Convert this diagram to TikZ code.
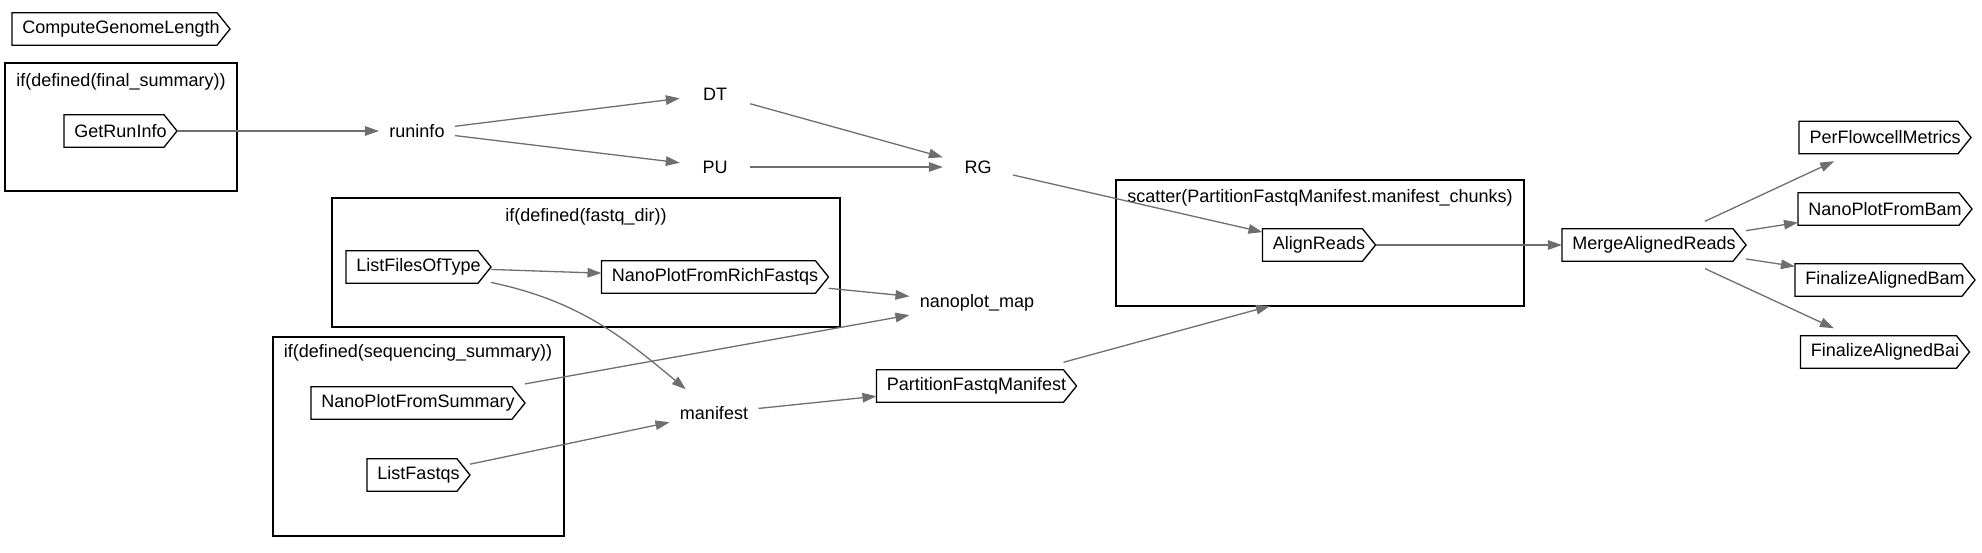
\documentclass[tikz,border=0pt]{standalone}
\usepackage{fontspec}
\setmainfont{Liberation Sans}
\usetikzlibrary{arrows.meta}
\definecolor{edgegray}{HTML}{6E6E6E}

\begin{document}
\begin{tikzpicture}[x=1pt, y=1pt, font=\fontsize{18}{21.6}\selectfont,
  task node/.style={rectangle, minimum height=47pt, inner xsep=10.3pt, inner ysep=0pt},
  var node/.style={rectangle, minimum width=70pt, minimum height=47pt, inner xsep=10.3pt, inner ysep=0pt},
  cluster box/.style={draw, line width=1.3pt},
  cds line/.style={draw, line width=1.3pt, line join=miter},
  flow/.style={draw=edgegray, line width=1.3pt, -{Triangle[length=14pt,width=9.5pt]}}]
\useasboundingbox (0,0) rectangle (1982,-552);
% clusters
\begin{scope}
\node[cluster box, minimum width=232pt, minimum height=128pt] (c1) at (121,-127) {};
\node[cluster box, minimum width=508pt, minimum height=129pt] (c2) at (586,-262.5) {};
\node[cluster box, minimum width=291pt, minimum height=199pt] (c3) at (418.5,-436.5) {};
\node[cluster box, minimum width=408pt, minimum height=126pt] (c4) at (1320,-243) {};
\node (c1label) at (121,-82) {if(defined(final\_summary))};
\node (c2label) at (586,-217) {if(defined(fastq\_dir))};
\node (c3label) at (418,-353) {if(defined(sequencing\_summary))};
\node (c4label) at (1320,-198) {scatter(PartitionFastqManifest.manifest\_chunks)};
\end{scope}
% tasks
\begin{scope}
\node[task node] (cgl) at (121,-29) {ComputeGenomeLength};
\node[task node] (gri) at (120.5,-131) {GetRunInfo};
\node[task node] (lft) at (418.5,-267) {ListFilesOfType};
\node[task node] (nprf) at (715,-277) {NanoPlotFromRichFastqs};
\node[task node] (npfs) at (418,-403) {NanoPlotFromSummary};
\node[task node] (lfq) at (418.5,-475) {ListFastqs};
\node[task node] (pfm) at (976.5,-386) {PartitionFastqManifest};
\node[task node] (alr) at (1319,-245) {AlignReads};
\node[task node] (mar) at (1654,-245) {MergeAlignedReads};
\node[task node] (pfc) at (1885,-137.5) {PerFlowcellMetrics};
\node[task node] (npb) at (1885,-209) {NanoPlotFromBam};
\node[task node] (fab) at (1885,-280) {FinalizeAlignedBam};
\node[task node] (fai) at (1885,-352) {FinalizeAlignedBai};
%\node[task node] () at (,) {};
\end{scope}
\foreach \t in {cgl,gri,lft,nprf,npfs,lfq,pfm,alr,mar,pfc,npb,fab,fai}
  \draw[cds line] ([yshift=-7.5pt]\t.north west) -- ([xshift=-13pt,yshift=-7.5pt]\t.north east)
    -- (\t.east) -- ([xshift=-13pt,yshift=7.5pt]\t.south east) -- ([yshift=7.5pt]\t.south west) -- cycle;
% values
\begin{scope}
\node[var node] (runinfo) at (417,-131) {runinfo};
\node[var node] (dt) at (715,-94) {DT};
\node[var node] (pu) at (715,-167) {PU};
\node[var node] (rg) at (978,-167) {RG};
\node[var node] (npmap) at (977,-303) {nanoplot\_map};
\node[var node] (manifest) at (714,-413) {manifest};
\coordinate (scatterin) at (1270,-306);
\end{scope}
\begin{scope}[flow]
\draw (gri) edge (runinfo);
\draw (runinfo) edge (dt);
\draw (runinfo) edge (pu);
\draw (dt) edge (rg);
\draw (pu) edge (rg);
\draw (rg) edge (alr);
\draw (lft) edge (nprf);
\draw (lft) edge[out=-12, in=140] (manifest);
\draw (nprf) edge (npmap);
\draw (npfs) edge (npmap);
\draw (lfq) edge (manifest);
\draw (manifest) edge (pfm);
\draw (pfm) edge (scatterin);
\draw (alr) edge (mar);
\draw (mar) edge (pfc);
\draw (mar) edge (npb);
\draw (mar) edge (fab);
\draw (mar) edge (fai);
%\draw (v) edge (v);
\end{scope}
\end{tikzpicture}
\end{document}
